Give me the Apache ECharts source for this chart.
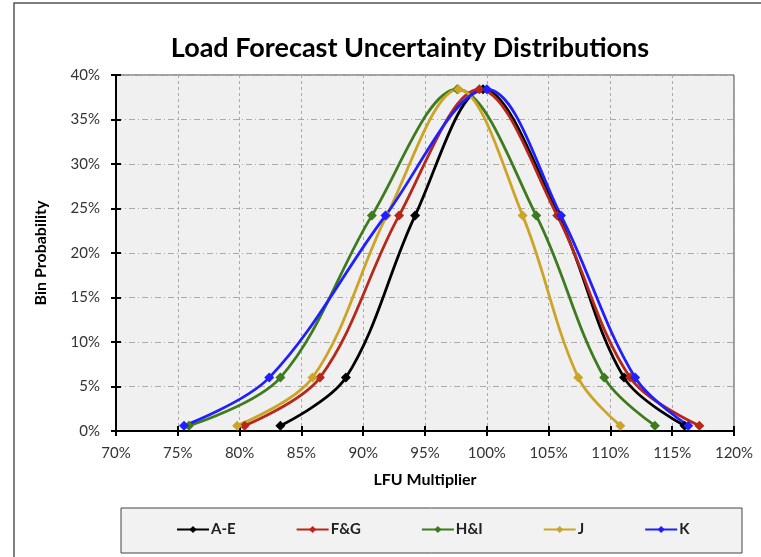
<!DOCTYPE html>
<html>
<head>
<meta charset="utf-8">
<script src="https://cdn.jsdelivr.net/npm/echarts@6/dist/echarts.min.js"></script>
<style>
  html, body { margin: 0; padding: 0; background: #fff; }
  #chart { width: 761px; height: 557px; }
</style>
</head>
<body>
<div id="chart"></div>
<script>
// bin probabilities (%) shared by every region, left tail -> peak -> right tail
var binProb = [0.6, 6, 24.2, 38.4, 24.2, 6, 0.6];

// LFU multiplier (%) at each bin
var multAE = [83.3, 88.6, 94.2, 99.7, 105.8, 111.1, 116.0];
var multFG = [80.4, 86.5, 92.9, 99.4, 105.7, 111.6, 117.2];
var multHI = [75.9, 83.3, 90.7, 97.6, 104.0, 109.5, 113.6];
var multJ  = [79.8, 85.9, 91.9, 97.7, 102.9, 107.4, 110.8];
var multK  = [75.5, 82.4, 91.8, 100.0, 106.0, 112.0, 116.3];

var seriesNames = ['A-E', 'F&G', 'H&I', 'J', 'K'];
var seriesColors = ['#000000', '#b8281a', '#3d7b1e', '#cca427', '#1f1fff'];
var seriesMult = [multAE, multFG, multHI, multJ, multK];

var font = 'Lato, "Liberation Sans", sans-serif';

function pairs(xs) {
    var out = [];
    for (var i = 0; i < xs.length; i++) {
        out.push([xs[i], binProb[i]]);
    }
    return out;
}

var chartDom = document.getElementById('chart');
var myChart = echarts.init(chartDom);

var series = seriesNames.map(function (name, i) {
    return {
        name: name,
        type: 'line',
        xAxisIndex: 0,
        yAxisIndex: 0,
        smooth: 0.35,
        symbol: 'diamond',
        symbolSize: 10,
        color: seriesColors[i],
        lineStyle: { width: 2.8, color: seriesColors[i] },
        itemStyle: { color: seriesColors[i] },
        data: pairs(seriesMult[i])
    };
});

var option = {
    animation: false,
    backgroundColor: '#ffffff',
    textStyle: { fontFamily: font },
    title: {
        text: 'Load Forecast Uncertainty Distributions',
        left: 405,
        textAlign: 'center',
        top: 30,
        textStyle: { fontFamily: font, fontSize: 27, fontWeight: 'bold', color: '#000' }
    },
    graphic: [{
        type: 'rect',
        shape: { x: 14, y: 3, width: 800, height: 620 },
        style: { fill: 'none', stroke: '#555', lineWidth: 1.5 },
        z: -1
    }, {
        // legend frame
        type: 'rect',
        shape: { x: 121, y: 508, width: 621, height: 45 },
        style: { fill: '#f2f2f2', stroke: '#444', lineWidth: 1 },
        z: -1
    }],
    grid: {
        left: 116, right: 27, top: 75, bottom: 126,
        show: true,
        backgroundColor: '#f0f0f0',
        borderColor: '#444',
        borderWidth: 1
    },
    legend: {
        data: seriesNames,
        left: 176,
        top: 522,
        padding: 0,
        itemGap: 60,
        itemWidth: 32,
        itemHeight: 9,
        textStyle: { fontFamily: font, fontSize: 15, fontWeight: 'bold', color: '#222', padding: [0, 0, 0, -3] }
    },
    xAxis: [{
        type: 'value',
        min: 70, max: 120, interval: 5,
        name: 'LFU Multiplier',
        nameLocation: 'middle',
        nameGap: 41,
        nameTextStyle: { fontFamily: font, fontSize: 16, fontWeight: 'bold', color: '#000' },
        axisLine: { show: true, lineStyle: { color: '#000', width: 2 } },
        axisTick: { show: true, length: 5, lineStyle: { color: '#000', width: 2 } },
        axisLabel: { formatter: '{value}%', margin: 15, fontFamily: font, fontSize: 15, color: '#333' },
        splitLine: { show: true, lineStyle: { color: '#aaa', type: [3, 3], width: 1 } }
    }, {
        type: 'value',
        min: 70, max: 120, interval: 5,
        position: 'bottom',
        axisLine: { show: false },
        axisTick: { show: true, inside: true, length: 5, lineStyle: { color: '#000', width: 2 } },
        axisLabel: { show: false },
        splitLine: { show: false }
    }],
    yAxis: [{
        type: 'value',
        min: 0, max: 40, interval: 5,
        name: 'Bin Probability',
        nameLocation: 'middle',
        nameGap: 67,
        nameTextStyle: { fontFamily: font, fontSize: 16, fontWeight: 'bold', color: '#000' },
        axisLine: { show: true, lineStyle: { color: '#000', width: 2 } },
        axisTick: { show: true, length: 5, lineStyle: { color: '#000', width: 2 } },
        axisLabel: { formatter: '{value}%', margin: 16, fontFamily: font, fontSize: 15, color: '#333' },
        splitLine: { show: true, lineStyle: { color: '#aaa', type: [6, 3, 1, 3], width: 1 } }
    }, {
        type: 'value',
        min: 0, max: 40, interval: 5,
        position: 'left',
        axisLine: { show: false },
        axisTick: { show: true, inside: true, length: 5, lineStyle: { color: '#000', width: 2 } },
        axisLabel: { show: false },
        splitLine: { show: false }
    }],
    series: series
};

option && myChart.setOption(option);
</script>
</body>
</html>
